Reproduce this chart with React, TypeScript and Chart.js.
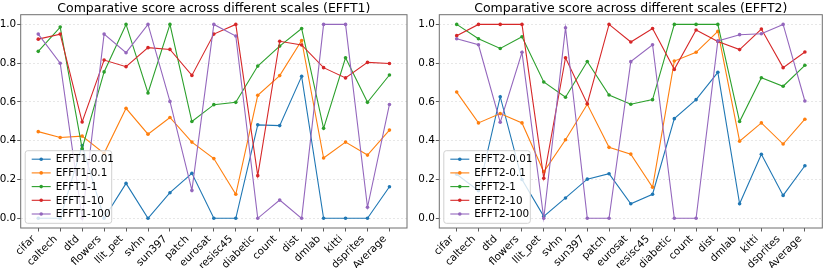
import React, { useEffect, useRef } from 'react';
import { Chart, registerables } from 'chart.js';

Chart.register(...registerables);

const categories = ['cifar', 'caltech', 'dtd', 'flowers', 'llit_pet', 'svhn', 'sun397', 'patch', 'eurosat', 'resisc45', 'diabetic', 'count', 'dist', 'dmlab', 'kitti', 'dsprites', 'Average'];
const yTicks = [0, 0.2, 0.4, 0.6, 0.8, 1.0];

const efft1Names = ['EFFT1-0.01', 'EFFT1-0.1', 'EFFT1-1', 'EFFT1-10', 'EFFT1-100'];
const efft1_001 = [0, 0, 0.375, 0, 0.18, 0, 0.132, 0.232, 0, 0, 0.482, 0.478, 0.732, 0, 0, 0, 0.163];
const efft1_01 = [0.447, 0.417, 0.424, 0.335, 0.567, 0.434, 0.52, 0.393, 0.308, 0.124, 0.634, 0.736, 0.917, 0.311, 0.393, 0.326, 0.455];
const efft1_1 = [0.861, 0.986, 0.36, 0.755, 1.0, 0.646, 1.0, 0.499, 0.586, 0.598, 0.785, 0.888, 0.979, 0.464, 0.828, 0.598, 0.739];
const efft1_10 = [0.924, 0.95, 0.497, 0.816, 0.782, 0.88, 0.871, 0.737, 0.95, 1.0, 0.22, 0.913, 0.894, 0.777, 0.724, 0.804, 0.798];
const efft1_100 = [0.95, 0.8, 0, 0.95, 0.854, 1.0, 0.603, 0.144, 1.0, 0.94, 0, 0.094, 0, 1.0, 1.0, 0.057, 0.587];

const efft2Names = ['EFFT2-0.01', 'EFFT2-0.1', 'EFFT2-1', 'EFFT2-10', 'EFFT2-100'];
const efft2_001 = [0.227, 0.142, 0.627, 0.2, 0.01, 0.105, 0.202, 0.23, 0.075, 0.124, 0.514, 0.612, 0.753, 0.075, 0.33, 0.118, 0.271];
const efft2_01 = [0.651, 0.492, 0.54, 0.492, 0.24, 0.405, 0.588, 0.366, 0.331, 0.16, 0.811, 0.856, 0.964, 0.398, 0.492, 0.383, 0.511];
const efft2_1 = [1.0, 0.926, 0.876, 0.936, 0.703, 0.624, 0.809, 0.636, 0.588, 0.612, 1.0, 1.0, 1.0, 0.499, 0.725, 0.681, 0.789];
const efft2_10 = [0.942, 1.0, 1.0, 1.0, 0.206, 0.828, 0.591, 1.0, 0.909, 0.979, 0.768, 0.971, 0.912, 0.87, 0.976, 0.777, 0.858];
const efft2_100 = [0.926, 0.895, 0.495, 0.856, 0, 0.983, 0, 0, 0.808, 0.895, 0, 0, 0.915, 0.947, 0.952, 1.0, 0.605];

const colors = ['#1f77b4', '#ff7f0e', '#2ca02c', '#d62728', '#9467bd'];
const FONT = 'DejaVu Sans';

function overlayPlugin(title: string, names: string[]) {
  return {
    id: 'overlay',
    afterDraw(chart: any) {
      const { ctx, chartArea } = chart;
      const a = chartArea;
      ctx.save();
      // frame
      ctx.strokeStyle = '#6f6f6f';
      ctx.lineWidth = 1;
      ctx.strokeRect(a.left, a.top, a.right - a.left, a.bottom - a.top);
      // title
      ctx.fillStyle = '#000';
      ctx.font = `12.5px "${FONT}"`;
      ctx.textAlign = 'center';
      ctx.textBaseline = 'alphabetic';
      ctx.fillText(title, (a.left + a.right) / 2, 11.8);
      // legend
      const bw = 86.5;
      const bh = 72.6;
      const bx = a.left + 4.5;
      const by = a.bottom - 4.7 - bh;
      const r = 2.5;
      ctx.beginPath();
      ctx.moveTo(bx + r, by);
      ctx.lineTo(bx + bw - r, by);
      ctx.quadraticCurveTo(bx + bw, by, bx + bw, by + r);
      ctx.lineTo(bx + bw, by + bh - r);
      ctx.quadraticCurveTo(bx + bw, by + bh, bx + bw - r, by + bh);
      ctx.lineTo(bx + r, by + bh);
      ctx.quadraticCurveTo(bx, by + bh, bx, by + bh - r);
      ctx.lineTo(bx, by + r);
      ctx.quadraticCurveTo(bx, by, bx + r, by);
      ctx.closePath();
      ctx.fillStyle = 'rgba(255,255,255,0.8)';
      ctx.fill();
      ctx.strokeStyle = '#d0d0d0';
      ctx.lineWidth = 1;
      ctx.stroke();
      ctx.font = `10.4px "${FONT}"`;
      ctx.textAlign = 'left';
      ctx.textBaseline = 'middle';
      names.forEach((n, k) => {
        const yy = by + 8.5 + k * 13.7;
        ctx.strokeStyle = colors[k];
        ctx.lineWidth = 1.1;
        ctx.beginPath();
        ctx.moveTo(bx + 6.5, yy);
        ctx.lineTo(bx + 25.5, yy);
        ctx.stroke();
        ctx.fillStyle = colors[k];
        ctx.beginPath();
        ctx.arc(bx + 16, yy, 1.8, 0, Math.PI * 2);
        ctx.fill();
        ctx.fillStyle = '#000';
        ctx.fillText(n, bx + 30.5, yy + 0.5);
      });
      ctx.restore();
    },
  };
}

type PanelProps = {
  title: string;
  names: string[];
  series: number[][];
  x: number;
  padLeft: number;
  padRight: number;
};

function Panel({ title, names, series, x, padLeft, padRight }: PanelProps) {
  const ref = useRef<HTMLCanvasElement>(null);
  useEffect(() => {
    const font = { family: FONT, size: 10.4 };
    const chart = new Chart(ref.current as HTMLCanvasElement, {
      type: 'line',
      data: {
        datasets: series.map((vals, k) => ({
          label: names[k],
          data: vals.map((v, i) => ({ x: i, y: v })),
          borderColor: colors[k],
          backgroundColor: colors[k],
          borderWidth: 1.1,
          pointRadius: 1.8,
          pointBorderWidth: 0,
          pointHoverRadius: 0,
          tension: 0,
          order: series.length - k,
        })),
      },
      options: {
        responsive: false,
        animation: false,
        devicePixelRatio: 1,
        events: [],
        layout: { padding: { left: padLeft, right: padRight, top: 14.7, bottom: 0 } },
        plugins: { legend: { display: false }, title: { display: false }, tooltip: { enabled: false } },
        scales: {
          x: {
            type: 'linear',
            min: -0.8,
            max: 16.8,
            afterBuildTicks: (s: any) => {
              s.ticks = categories.map((_, i) => ({ value: i }));
            },
            afterFit: (s: any) => {
              s.height = 40;
              s.paddingLeft = 0;
              s.paddingRight = 0;
            },
            ticks: {
              autoSkip: false,
              minRotation: 45,
              maxRotation: 45,
              padding: 1.5,
              labelOffset: -4.5,
              color: '#000',
              font,
              callback: (v: any) => categories[Math.round(Number(v))],
            },
            grid: { display: true, drawOnChartArea: false, drawTicks: true, tickLength: 3.5, tickColor: '#333', lineWidth: 0.8 },
            border: { display: false },
          },
          y: {
            type: 'linear',
            min: -0.05,
            max: 1.05,
            afterBuildTicks: (s: any) => {
              s.ticks = yTicks.map((v) => ({ value: v }));
            },
            afterFit: (s: any) => {
              s.width = 20.7;
            },
            ticks: {
              color: '#000',
              font,
              padding: 1,
              callback: (v: any) => Number(v).toFixed(1),
            },
            grid: { color: 'rgba(0,0,0,0.12)', lineWidth: 0.8, drawTicks: true, tickLength: 3.5, tickColor: '#333' },
            border: { display: false, dash: [2, 2] },
          },
        },
      },
      plugins: [overlayPlugin(title, names)],
    } as any);
    return () => chart.destroy();
  }, []);
  return (
    <canvas
      ref={ref}
      width={415}
      height={268}
      style={{ position: 'absolute', left: x, top: 0, width: 415, height: 268 }}
    />
  );
}

export default function App() {
  return (
    <div style={{ position: 'fixed', left: 0, top: 0, width: 830, height: 268, background: '#fff' }}>
      <Panel
        title="Comparative score across different scales (EFFT1)"
        names={efft1Names}
        series={[efft1_001, efft1_01, efft1_1, efft1_10, efft1_100]}
        x={0}
        padLeft={0}
        padRight={8}
      />
      <Panel
        title="Comparative score across different scales (EFFT2)"
        names={efft2Names}
        series={[efft2_001, efft2_01, efft2_1, efft2_10, efft2_100]}
        x={415}
        padLeft={3.6}
        padRight={7.7}
      />
    </div>
  );
}
